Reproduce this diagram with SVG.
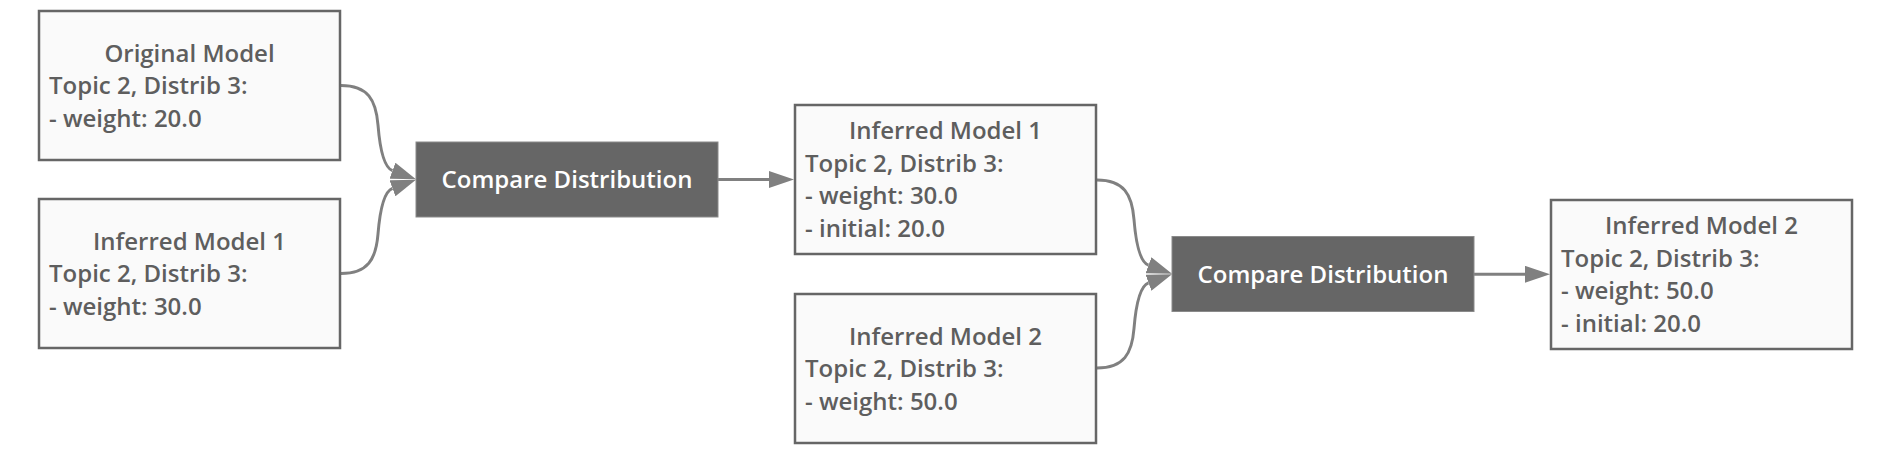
<svg xmlns="http://www.w3.org/2000/svg" width="1890" height="454" viewBox="0 0 1890 454">
<style>
.box{fill:#fafafa;stroke:#666;stroke-width:2.5}
.cmp{fill:#666;stroke:#8a8a8a;stroke-width:1}
.t{font-family:"Open Sans","Noto Sans",sans-serif;font-size:24px;font-weight:600;fill:#5e5e5e}
.c{text-anchor:middle}
.w{font-family:"Open Sans","Noto Sans",sans-serif;font-size:24px;font-weight:600;fill:#ffffff;text-anchor:middle}
.e{fill:none;stroke:#808080;stroke-width:3}
</style>
<defs>
<marker id="ah" markerUnits="userSpaceOnUse" markerWidth="25" markerHeight="17" refX="0" refY="8.5" orient="auto" viewBox="0 0 25 17">
<path d="M0,0 L25,8.5 L0,17 z" fill="#808080"/>
</marker>
</defs>
<g id="connectors">
<path class="e" marker-end="url(#ah)" d="M341,85.5 C368,85.5 376,100 378,125 C380,150 384,167.6 392.5,170.7"/>
<path class="e" marker-end="url(#ah)" d="M341,273.5 C368,273.5 376,259 378,234 C380,209 384,191.4 392.5,188.3"/>
<path class="e" marker-end="url(#ah)" d="M718,179.5 L769,179.5"/>
<path class="e" marker-end="url(#ah)" d="M1097,180 C1124,180 1132,194.5 1134,219.5 C1136,244.5 1140,262.1 1148.5,265.2"/>
<path class="e" marker-end="url(#ah)" d="M1097,368 C1124,368 1132,353.5 1134,328.5 C1136,303.5 1140,285.9 1148.5,282.8"/>
<path class="e" marker-end="url(#ah)" d="M1474,274.3 L1525,274.3"/>
</g>
<g id="original-model">
<rect class="box" x="39" y="11" width="301" height="149"/>
<text class="t c" x="189.5" y="61.5">Original Model</text>
<text class="t" x="49" y="94">Topic 2, Distrib 3:</text>
<text class="t" x="49" y="126.5">- weight: 20.0</text>
</g>
<g id="inferred-model-1a">
<rect class="box" x="39" y="199" width="301" height="149"/>
<text class="t c" x="189.5" y="249.5">Inferred Model 1</text>
<text class="t" x="49" y="282">Topic 2, Distrib 3:</text>
<text class="t" x="49" y="314.5">- weight: 30.0</text>
</g>
<g id="compare-1">
<rect class="cmp" x="416" y="142" width="302" height="75"/>
<text class="w" x="567" y="188">Compare Distribution</text>
</g>
<g id="inferred-model-1b">
<rect class="box" x="795" y="105" width="301" height="149"/>
<text class="t c" x="945.5" y="139.25">Inferred Model 1</text>
<text class="t" x="805" y="171.75">Topic 2, Distrib 3:</text>
<text class="t" x="805" y="204.25">- weight: 30.0</text>
<text class="t" x="805" y="236.75">- initial: 20.0</text>
</g>
<g id="inferred-model-2a">
<rect class="box" x="795" y="294" width="301" height="149"/>
<text class="t c" x="945.5" y="344.5">Inferred Model 2</text>
<text class="t" x="805" y="377">Topic 2, Distrib 3:</text>
<text class="t" x="805" y="409.5">- weight: 50.0</text>
</g>
<g id="compare-2">
<rect class="cmp" x="1172" y="236.5" width="302" height="75"/>
<text class="w" x="1323" y="282.5">Compare Distribution</text>
</g>
<g id="inferred-model-2b">
<rect class="box" x="1551" y="200" width="301" height="149"/>
<text class="t c" x="1701.5" y="234.25">Inferred Model 2</text>
<text class="t" x="1561" y="266.75">Topic 2, Distrib 3:</text>
<text class="t" x="1561" y="299.25">- weight: 50.0</text>
<text class="t" x="1561" y="331.75">- initial: 20.0</text>
</g>
</svg>
